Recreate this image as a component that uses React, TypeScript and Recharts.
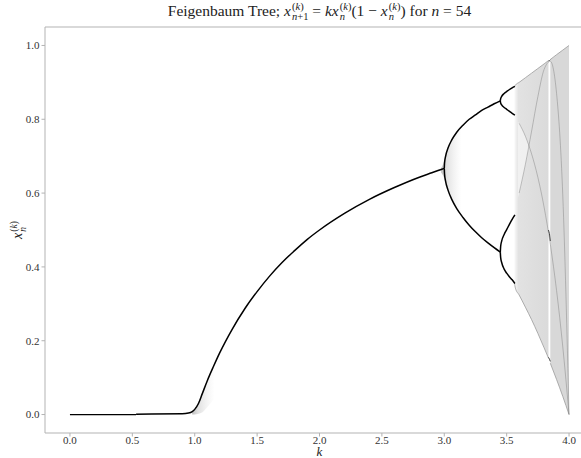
import React from 'react'
import {
  ComposedChart,
  Line,
  Area,
  XAxis,
  YAxis,
  ReferenceLine,
} from 'recharts'

// growth rate k and the settled x values of each branch
const kFixedLow = [0, 0.53]
const xFixedLow = [0, 0]

const kFixed = [0.53, 0.9, 0.95, 0.98, 1.0, 1.03, 1.06, 1.1, 1.15, 1.2, 1.3, 1.4, 1.5, 1.6, 1.7, 1.8, 1.9, 2.0, 2.2, 2.4, 2.6, 2.8, 2.9, 2.95, 3.0]
const xFixed = [0.001, 0.002, 0.004, 0.008, 0.014, 0.03, 0.056, 0.091, 0.13, 0.167, 0.231, 0.286, 0.333, 0.375, 0.412, 0.444, 0.474, 0.5, 0.545, 0.583, 0.615, 0.643, 0.655, 0.661, 0.667]

const kPeriod2 = [3.0, 3.002, 3.01, 3.03, 3.06, 3.1, 3.15, 3.2, 3.25, 3.3, 3.35, 3.4, 3.449]
const xPeriod2Upper = [0.667, 0.681, 0.699, 0.722, 0.744, 0.765, 0.784, 0.8, 0.812, 0.824, 0.833, 0.842, 0.85]
const xPeriod2Lower = [0.667, 0.652, 0.633, 0.608, 0.583, 0.558, 0.534, 0.513, 0.495, 0.479, 0.465, 0.452, 0.44]

const kPeriod4 = [3.449, 3.452, 3.46, 3.48, 3.5, 3.52, 3.544, 3.566]
const xPeriod4A = [0.85, 0.856, 0.862, 0.87, 0.875, 0.88, 0.885, 0.889]
const xPeriod4B = [0.85, 0.844, 0.839, 0.832, 0.827, 0.822, 0.816, 0.811]
const xPeriod4C = [0.44, 0.456, 0.47, 0.488, 0.501, 0.514, 0.529, 0.541]
const xPeriod4D = [0.44, 0.425, 0.412, 0.394, 0.383, 0.374, 0.365, 0.355]

// chaotic region, split around the period-3 window
const kChaosA = [3.562, 3.57, 3.6, 3.65, 3.7, 3.75, 3.8, 3.835]
const xChaosATop = [0.887, 0.8925, 0.9, 0.9125, 0.925, 0.9375, 0.95, 0.959]
const xChaosABottom = [0.357, 0.3425, 0.324, 0.291, 0.257, 0.22, 0.181, 0.153]

const kChaosB = [3.85, 3.9, 3.95, 4.0]
const xChaosBTop = [0.962, 0.975, 0.9875, 1.0]
const xChaosBBottom = [0.139, 0.095, 0.049, 0.0]

// gap between the two bands just after onset of chaos
const kTwoBandGap = [3.59, 3.6, 3.63, 3.65, 3.67, 3.679]
const xGapLow = [0.587, 0.6, 0.645, 0.678, 0.713, 0.725]
const xGapHigh = [0.794, 0.789, 0.769, 0.754, 0.736, 0.725]

// period-3 window
const kWindow = [3.835, 3.843, 3.85]
const xWindowTop = [0.958, 0.959, 0.961]
const xWindowMid = [0.5, 0.49, 0.47]
const xWindowLow = [0.155, 0.15, 0.144]

// darker streaks through the chaotic band
const kStreak = [3.6, 3.65, 3.7, 3.75, 3.8, 3.85, 3.9, 3.95, 4.0]
const xStreak3 = [0.789, 0.754, 0.706, 0.643, 0.562, 0.461, 0.336, 0.183, 0]
const xStreak4 = [0.6, 0.678, 0.768, 0.861, 0.935, 0.957, 0.87, 0.592, 0]

// slow convergence haze near the bifurcation points
const kHaze3 = [2.975, 2.99, 3.0, 3.03, 3.06, 3.1, 3.14]
const xHaze3Low = [0.655, 0.648, 0.64, 0.607, 0.583, 0.558, 0.538]
const xHaze3High = [0.668, 0.678, 0.69, 0.722, 0.744, 0.765, 0.781]

const kHaze1 = [0.98, 1.0, 1.05, 1.1, 1.16]
const xHaze1Low = [0.0, 0.0, 0.004, 0.02, 0.045]
const xHaze1High = [0.008, 0.016, 0.05, 0.092, 0.138]

const kTicks = [0, 0.5, 1, 1.5, 2, 2.5, 3, 3.5, 4]
const xTicks = [0, 0.2, 0.4, 0.6, 0.8, 1]

const line = (ks: number[], xs: number[]) => ks.map((k, i) => ({ k, x: xs[i] }))
const band = (ks: number[], lo: number[], hi: number[]) =>
  ks.map((k, i) => ({ k, band: [lo[i], hi[i]] }))

const FONT = '"Liberation Serif", "Times New Roman", serif'
const SPINE = '#b3b3b3'

function Xk({ sub }: { sub: React.ReactNode }) {
  return (
    <span style={{ whiteSpace: 'nowrap' }}>
      <i>x</i>
      <span
        style={{
          display: 'inline-block',
          verticalAlign: '-0.38em',
          lineHeight: 0.95,
          fontSize: '0.68em',
          textAlign: 'left',
          marginLeft: 1,
        }}
      >
        <span style={{ display: 'block' }}>
          (<i>k</i>)
        </span>
        <span style={{ display: 'block' }}>{sub}</span>
      </span>
    </span>
  )
}

const branchLines: [number[], number[]][] = [
  [kFixed, xFixed],
  [kPeriod2, xPeriod2Upper],
  [kPeriod2, xPeriod2Lower],
  [kPeriod4, xPeriod4A],
  [kPeriod4, xPeriod4B],
  [kPeriod4, xPeriod4C],
  [kPeriod4, xPeriod4D],
]

const tickStyle = { fill: '#333', fontSize: 11, fontFamily: FONT }

export default function App() {
  return (
    <div
      style={{
        position: 'fixed',
        left: 0,
        top: 0,
        width: 581,
        height: 458,
        overflow: 'hidden',
        background: '#fff',
        fontFamily: FONT,
      }}
    >
      <ComposedChart
        width={600}
        height={458}
        margin={{ top: 27, right: 6, bottom: 0, left: 0 }}
        style={{ fontFamily: FONT }}
      >
        <defs>
          <linearGradient id="haze" x1="0" y1="0" x2="1" y2="0">
            <stop offset="0" stopColor="#222" stopOpacity={0.5} />
            <stop offset="0.25" stopColor="#555" stopOpacity={0.3} />
            <stop offset="1" stopColor="#999" stopOpacity={0} />
          </linearGradient>
          <linearGradient id="chaosA" x1="0" y1="0" x2="1" y2="0">
            <stop offset="0" stopColor="#e2e2e2" stopOpacity={0.2} />
            <stop offset="0.12" stopColor="#e2e2e2" stopOpacity={1} />
            <stop offset="1" stopColor="#dadada" stopOpacity={1} />
          </linearGradient>
        </defs>
        <XAxis
          type="number"
          dataKey="k"
          domain={[-0.2, 4.2]}
          allowDataOverflow
          ticks={kTicks}
          tickFormatter={(v: number) => v.toFixed(1)}
          height={25}
          tickSize={3.5}
          tickMargin={0}
          stroke={SPINE}
          tick={tickStyle}
        />
        <YAxis
          type="number"
          domain={[-0.05, 1.05]}
          allowDataOverflow
          ticks={xTicks}
          tickFormatter={(v: number) => v.toFixed(1)}
          width={45}
          tickSize={3.5}
          tickMargin={2}
          stroke={SPINE}
          tick={tickStyle}
        />
        <ReferenceLine y={1.05} stroke={SPINE} strokeWidth={1.2} />

        <Area
          data={band(kChaosA, xChaosABottom, xChaosATop)}
          dataKey="band"
          type="monotone"
          stroke="#9a9a9a"
          strokeWidth={0.8}
          fill="url(#chaosA)"
          fillOpacity={1}
          isAnimationActive={false}
        />
        <Area
          data={band(kChaosB, xChaosBBottom, xChaosBTop)}
          dataKey="band"
          type="monotone"
          stroke="#9a9a9a"
          strokeWidth={0.8}
          fill="#d8d8d8"
          fillOpacity={1}
          isAnimationActive={false}
        />
        <Area
          data={band(kTwoBandGap, xGapLow, xGapHigh)}
          dataKey="band"
          type="monotone"
          stroke="none"
          fill="#fff"
          fillOpacity={0.5}
          isAnimationActive={false}
        />
        <Area
          data={band(kHaze3, xHaze3Low, xHaze3High)}
          dataKey="band"
          type="monotone"
          stroke="none"
          fill="url(#haze)"
          isAnimationActive={false}
        />
        <Area
          data={band(kHaze1, xHaze1Low, xHaze1High)}
          dataKey="band"
          type="monotone"
          stroke="none"
          fill="url(#haze)"
          isAnimationActive={false}
        />

        <Line
          data={line(kStreak, xStreak3)}
          dataKey="x"
          type="monotone"
          stroke="#666"
          strokeOpacity={0.45}
          strokeWidth={0.8}
          dot={false}
          isAnimationActive={false}
        />
        <Line
          data={line(kStreak, xStreak4)}
          dataKey="x"
          type="monotone"
          stroke="#666"
          strokeOpacity={0.45}
          strokeWidth={0.8}
          dot={false}
          isAnimationActive={false}
        />
        {[xWindowTop, xWindowMid, xWindowLow].map((xs, i) => (
          <Line
            key={`w${i}`}
            data={line(kWindow, xs)}
            dataKey="x"
            type="linear"
            stroke="#444"
            strokeWidth={1}
            dot={false}
            isAnimationActive={false}
          />
        ))}

        <Line
          data={line(kFixedLow, xFixedLow)}
          dataKey="x"
          type="linear"
          stroke="#000"
          strokeWidth={1.3}
          dot={false}
          isAnimationActive={false}
        />
        {branchLines.map(([ks, xs], i) => (
          <Line
            key={`b${i}`}
            data={line(ks, xs)}
            dataKey="x"
            type="monotone"
            stroke="#000"
            strokeWidth={1.5}
            dot={false}
            isAnimationActive={false}
          />
        ))}
      </ComposedChart>

      <div
        style={{
          position: 'absolute',
          left: 0,
          width: 639,
          top: 2,
          textAlign: 'center',
          fontSize: 15.5,
          color: '#222',
        }}
      >
        Feigenbaum Tree; <Xk sub={<><i>n</i>+1</>} /> = <i>k</i>
        <Xk sub={<i>n</i>} />(1 − <Xk sub={<i>n</i>} />) for <i>n</i> = 54
      </div>

      <div
        style={{
          position: 'absolute',
          left: 0,
          width: 639,
          top: 446,
          height: 11,
          lineHeight: '11px',
          textAlign: 'center',
          fontSize: 13,
          color: '#222',
        }}
      >
        <i>k</i>
      </div>

      <div
        style={{
          position: 'absolute',
          left: 18,
          top: 230,
          width: 0,
          height: 0,
        }}
      >
        <div
          style={{
            position: 'absolute',
            left: -20,
            top: -10,
            width: 40,
            height: 20,
            lineHeight: '20px',
            textAlign: 'center',
            fontSize: 14,
            color: '#222',
            transform: 'rotate(-90deg)',
            transformOrigin: '50% 50%',
          }}
        >
          <Xk sub={<i>n</i>} />
        </div>
      </div>
    </div>
  )
}
